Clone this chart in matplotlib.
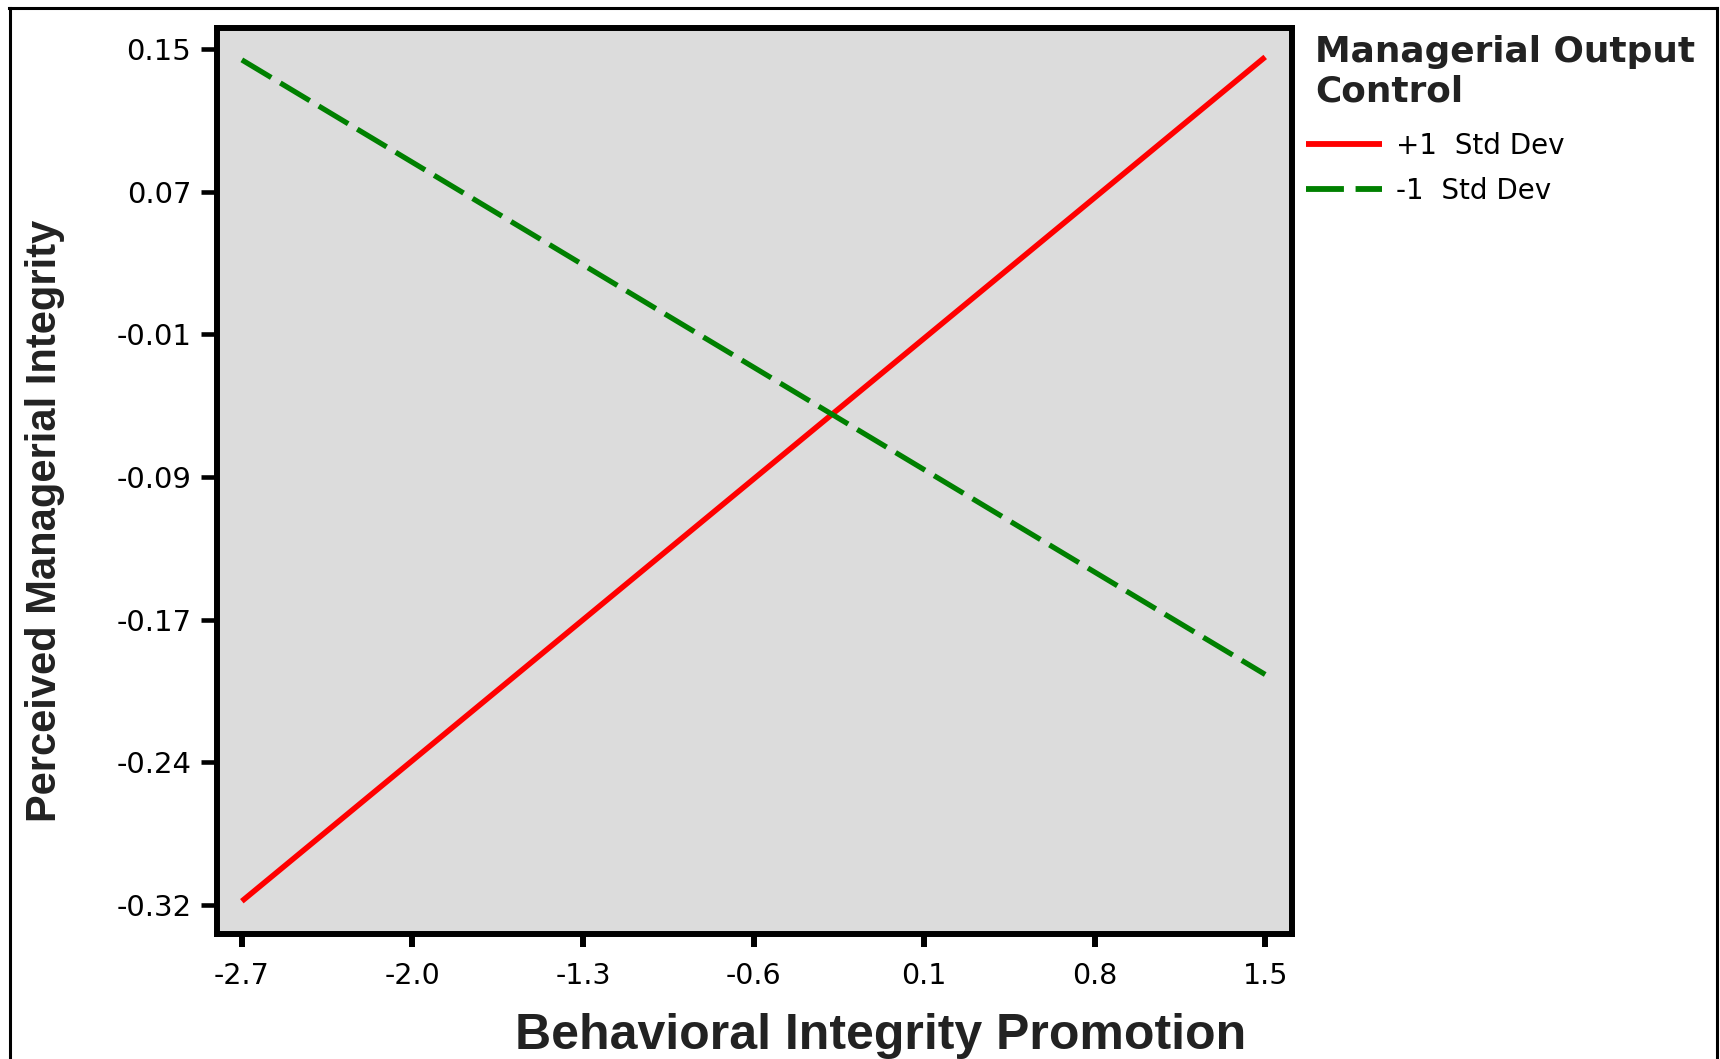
import matplotlib
matplotlib.use("Agg")
import matplotlib.pyplot as plt
from matplotlib.lines import Line2D
import numpy as np

plt.rcParams['font.family'] = ['DejaVu Sans']

# ---- data ----
x_ends = [-2.7, 1.5]
plus1_sd = [-0.318, 0.1456]
minus1_sd = [0.144, -0.1935]
series_labels = ["+1  Std Dev", "-1  Std Dev"]
legend_title_lines = ["Managerial Output", "Control"]

x_ticks = [-2.7, -2.0, -1.3, -0.6, 0.1, 0.8, 1.5]
x_tick_labels = ["-2.7", "-2.0", "-1.3", "-0.6", "0.1", "0.8", "1.5"]
y_tick_labels = ["0.15", "0.07", "-0.01", "-0.09", "-0.17", "-0.24", "-0.32"]
y_top, y_bottom = 0.15, -0.32

W, H = 1720, 1059
fig = plt.figure(figsize=(W / 100, H / 100), dpi=100)
fig.patch.set_facecolor('white')

def fx(px):
    return px / W

def fy(py):
    return 1 - py / H

ax = fig.add_axes([fx(217), fy(934), fx(1292) - fx(217), fy(28) - fy(934)])
ax.set_facecolor('#dcdcdc')

ax.plot(x_ends, plus1_sd, color='#ff0000', lw=4.0, solid_capstyle='butt',
        label=series_labels[0])
ax.plot(x_ends, minus1_sd, color='#008000', lw=3.8, dashes=(6.5, 2.0),
        dash_capstyle='butt', label=series_labels[1])

y_ticks = np.linspace(y_top, y_bottom, len(y_tick_labels))
ax.set_xticks(x_ticks)
ax.set_xticklabels(x_tick_labels)
ax.set_yticks(y_ticks)
ax.set_yticklabels(y_tick_labels)

ax.set_xlim(-2.802, 1.61)
ax.set_ylim(-0.336, 0.1615)

for s in ax.spines.values():
    s.set_linewidth(4.3)
    s.set_color('black')

ax.tick_params(axis='y', length=11.5, width=3.3, pad=7, labelsize=21, colors='black')
ax.tick_params(axis='x', length=9, width=4.3, pad=11, labelsize=20.5, colors='black')

# axis labels (placed as in reference)
fig.text(fx(881), fy(1036), "Behavioral Integrity Promotion", ha='center', va='center',
         fontsize=36, fontweight='bold', color='#222222', family='Liberation Sans')
fig.text(fx(45), fy(521), "Perceived Managerial Integrity", ha='center', va='center',
         rotation=90, fontsize=30, fontweight='bold', color='#222222',
         family='Liberation Sans')

# legend title (two lines) and entries
fig.text(fx(1315), fy(62), legend_title_lines[0], ha='left', va='baseline',
         fontsize=25.8, fontweight='bold', color='#222222')
fig.text(fx(1315), fy(102), legend_title_lines[1], ha='left', va='baseline',
         fontsize=25.8, fontweight='bold', color='#222222')
leg = fig.legend(loc='upper left', bbox_to_anchor=(fx(1306), fy(132)),
                 frameon=False, fontsize=20,
                 handlelength=2.75, handletextpad=0.5,
                 labelspacing=0.62, borderpad=0, borderaxespad=0)
for h in leg.get_lines():
    h.set_linewidth(4.2)

# figure border (top, left, right)
border_kw = dict(color='black', lw=2.2, transform=fig.transFigure)
fig.add_artist(Line2D([fx(9), fx(1717)], [fy(8), fy(8)], **border_kw))
fig.add_artist(Line2D([fx(10), fx(10)], [fy(8), 0], **border_kw))
fig.add_artist(Line2D([fx(1717), fx(1717)], [fy(8), 0], **border_kw))

fig.savefig("out.png", dpi=100)
